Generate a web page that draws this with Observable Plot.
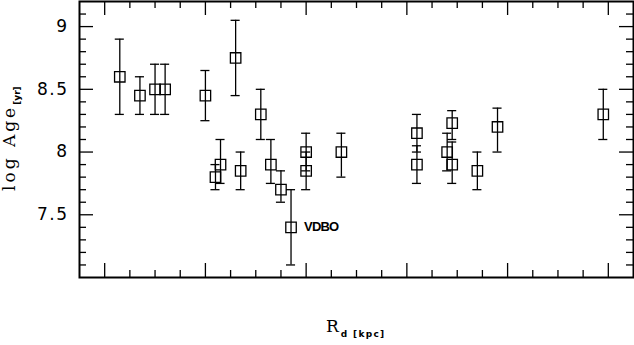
<!DOCTYPE html>
<html>
<head>
<meta charset="utf-8">
<script src="https://cdn.jsdelivr.net/npm/d3@7"></script>
<script src="https://cdn.jsdelivr.net/npm/@observablehq/plot@0.6"></script>
<style>
  html, body { margin: 0; padding: 0; background: #fff; }
  #chart svg { display: block; }
</style>
</head>
<body>
<div id="chart"></div>
<script>
// Galactocentric distance (kpc; x tick labels are not shown in the original)
const Rd = [6.15, 6.35, 6.50, 6.60, 7.00, 7.10, 7.15, 7.30, 7.35, 7.55, 7.65, 7.75,
            7.85, 8.00, 8.00, 8.35, 9.10, 9.10, 9.40, 9.45, 9.45, 9.70, 9.90, 10.95];
// log Age [yr]
const logAge = [8.60, 8.45, 8.50, 8.50, 8.45, 7.80, 7.90, 8.75, 7.85, 8.30, 7.90, 7.70,
                7.40, 8.00, 7.85, 8.00, 8.15, 7.90, 8.00, 8.23, 7.90, 7.85, 8.20, 8.30];
const errLow = [8.30, 8.30, 8.30, 8.30, 8.25, 7.70, 7.75, 8.45, 7.70, 8.10, 7.75, 7.60,
                7.10, 7.85, 7.70, 7.80, 8.00, 7.75, 7.85, 8.10, 7.75, 7.70, 8.00, 8.10];
const errHigh = [8.90, 8.60, 8.70, 8.70, 8.65, 7.90, 8.10, 9.05, 8.00, 8.50, 8.10, 7.85,
                 7.70, 8.15, 8.00, 8.15, 8.30, 8.05, 8.15, 8.33, 8.08, 8.00, 8.35, 8.50];
const names = ["", "", "", "", "", "", "", "", "", "", "", "",
               "VDBO", "", "", "", "", "", "", "", "", "", "", ""];

// ticks
const xMajor = [6, 7, 8, 9, 10, 11];
const xMinor = [6.25, 6.5, 6.75, 7.25, 7.5, 7.75, 8.25, 8.5, 8.75, 9.25, 9.5, 9.75,
                10.25, 10.5, 10.75];
const yMajor = [7.5, 8, 8.5, 9];
const yMinor = [7.1, 7.2, 7.3, 7.4, 7.6, 7.7, 7.8, 7.9, 8.1, 8.2, 8.3, 8.4,
                8.6, 8.7, 8.8, 8.9, 9.1];
const yTickLabels = ["7.5", "8", "8.5", "9"];

const data = Rd.map((r, i) => ({R: r, age: logAge[i], lo: errLow[i], hi: errHigh[i], name: names[i]}));

const W = 634, H = 345, mL = 79, mR = 1, mT = 1, mB = 68;
const pw = W - mL - mR, ph = H - mT - mB;
const majLen = 14, minLen = 7, capHalf = 0.045;
const tickStyle = {stroke: "black", strokeWidth: 1.3};

const chart = Plot.plot({
  width: W, height: H,
  marginLeft: mL, marginRight: mR, marginTop: mT, marginBottom: mB,
  x: {domain: [5.75, 11.25], axis: null},
  y: {domain: [7.0, 9.2], axis: null},
  style: {background: "white", overflow: "visible"},
  marks: [
    Plot.tickX(xMajor, {x: d => d, insetTop: ph - majLen, ...tickStyle}),
    Plot.tickX(xMajor, {x: d => d, insetBottom: ph - majLen, ...tickStyle}),
    Plot.tickX(xMinor, {x: d => d, insetTop: ph - minLen, ...tickStyle}),
    Plot.tickX(xMinor, {x: d => d, insetBottom: ph - minLen, ...tickStyle}),
    Plot.tickY(yMajor, {y: d => d, insetRight: pw - majLen, ...tickStyle}),
    Plot.tickY(yMajor, {y: d => d, insetLeft: pw - majLen, ...tickStyle}),
    Plot.tickY(yMinor, {y: d => d, insetRight: pw - minLen, ...tickStyle}),
    Plot.tickY(yMinor, {y: d => d, insetLeft: pw - minLen, ...tickStyle}),
    Plot.text(yMajor, {y: d => d, text: (d, i) => yTickLabels[i], frameAnchor: "left", dx: -11,
      textAnchor: "end", fontSize: 17, fontFamily: "DejaVu Sans", fill: "black"}),
    Plot.ruleX(data, {x: "R", y1: "lo", y2: "hi", stroke: "black", strokeWidth: 1.3}),
    Plot.ruleY(data, {y: "lo", x1: d => d.R - capHalf, x2: d => d.R + capHalf, stroke: "black", strokeWidth: 1.3}),
    Plot.ruleY(data, {y: "hi", x1: d => d.R - capHalf, x2: d => d.R + capHalf, stroke: "black", strokeWidth: 1.3}),
    Plot.dot(data, {x: "R", y: "age", symbol: "square", r: 5.9, stroke: "black", fill: "none", strokeWidth: 1.3}),
    Plot.text(data.filter(d => d.name), {x: "R", y: "age", text: "name", dx: 13, textAnchor: "start",
      fontSize: 13, fontWeight: "bold", fontFamily: "Liberation Sans", fill: "black"}),
    Plot.frame({stroke: "black", strokeWidth: 2})
  ]
});

const svg = d3.select(chart);
svg.selectAll("text").filter(function() { return this.textContent === "VDBO"; })
  .attr("letter-spacing", "-0.8px");
svg.selectAll("text").filter(function() { return yTickLabels.includes(this.textContent); })
  .attr("letter-spacing", "1.5px");

// y title
const yt = svg.append("text")
  .attr("transform", "translate(15,191) rotate(-90)")
  .attr("text-anchor", "start")
  .attr("fill", "black");
yt.append("tspan").attr("font-family", "DejaVu Serif").attr("font-size", 17)
  .attr("letter-spacing", "3px").text("log Age");
yt.append("tspan").attr("font-family", "DejaVu Sans").attr("font-weight", "bold")
  .attr("font-size", 9).attr("dy", 5).text("[yr]");

// x title
const xt = svg.append("text").attr("x", 326).attr("y", 332)
  .attr("text-anchor", "start").attr("fill", "black");
xt.append("tspan").attr("font-family", "DejaVu Serif").attr("font-size", 17).text("R");
xt.append("tspan").attr("font-family", "DejaVu Sans").attr("font-weight", "bold")
  .attr("font-size", 9).attr("letter-spacing", "1.3px").attr("dx", 2).attr("dy", 5).text("d [kpc]");

document.getElementById("chart").appendChild(chart);
</script>
</body>
</html>
